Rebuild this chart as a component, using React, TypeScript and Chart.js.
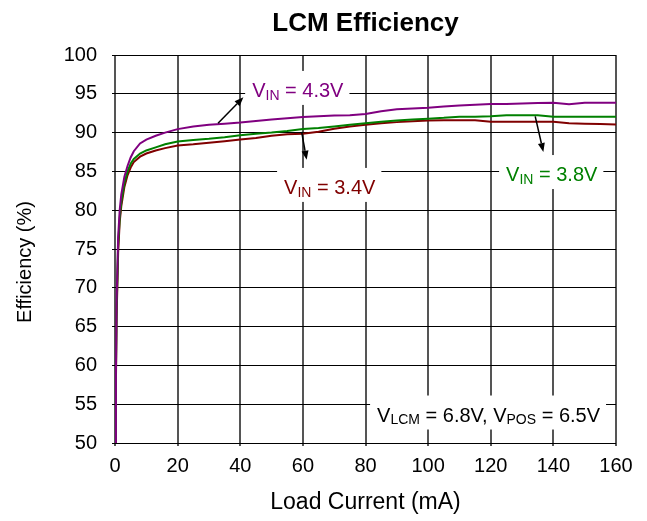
import { useEffect, useRef } from 'react';
import { Chart, registerables } from 'chart.js';

Chart.register(...registerables);

const FONT = "'Liberation Sans', Arial, sans-serif";

// Load current (mA)
const loadCurrent = [
  0.1, 0.3, 0.5, 0.8, 1, 1.5, 2, 3, 4, 5, 6, 8, 10, 13, 16, 20, 25, 30, 35, 40,
  45, 50, 55, 60, 65, 70, 75, 80, 85, 90, 95, 100, 105, 110, 115, 120, 125, 130,
  135, 140, 145, 150, 155, 160,
];

// Efficiency (%) for VIN = 4.3V
const eff43 = [
  50, 59, 68, 73, 76.5, 80, 82, 84.3, 85.7, 86.8, 87.6, 88.6, 89.1, 89.6, 90.0,
  90.45, 90.8, 91.0, 91.15, 91.3, 91.5, 91.7, 91.85, 92.0, 92.1, 92.2, 92.25,
  92.4, 92.75, 93.0, 93.1, 93.2, 93.35, 93.5, 93.6, 93.7, 93.7, 93.75, 93.8,
  93.85, 93.65, 93.85, 93.85, 93.85,
];

// Efficiency (%) for VIN = 3.8V
const eff38 = [
  50, 59, 67, 72, 75.5, 79, 81, 83.5, 85, 86, 86.6, 87.3, 87.7, 88.1, 88.5,
  88.85, 89.05, 89.2, 89.4, 89.65, 89.85, 90.0, 90.2, 90.45, 90.6, 90.8, 91.0,
  91.2, 91.4, 91.55, 91.7, 91.8, 91.9, 92.05, 92.05, 92.1, 92.25, 92.25, 92.25,
  92.05, 92.05, 92.05, 92.05, 92.05,
];

// Efficiency (%) for VIN = 3.4V
const eff34 = [
  50, 58, 66, 71, 74.5, 78.5, 80.5, 83, 84.5, 85.5, 86.2, 86.9, 87.3, 87.7, 88.0,
  88.35, 88.5, 88.7, 88.9, 89.1, 89.3, 89.6, 89.8, 89.85, 90.1, 90.5, 90.8, 91.0,
  91.2, 91.35, 91.45, 91.55, 91.6, 91.6, 91.6, 91.4, 91.4, 91.4, 91.4, 91.4,
  91.2, 91.15, 91.1, 91.05,
];

const X_MIN = 0;
const X_MAX = 160;
const X_STEP = 20;
const Y_MIN = 50;
const Y_MAX = 100;
const Y_STEP = 5;

const TITLE = 'LCM Efficiency';
const X_TITLE = 'Load Current (mA)';
const Y_TITLE = 'Efficiency (%)';

const PURPLE = '#800080';
const GREEN = '#008000';
const DARKRED = '#800000';

// Annotation labels (anchor = left edge / vertical center, in data units)
type Part = [string, boolean];
const LABELS: { parts: Part[]; x: number; y: number; color: string }[] = [
  { parts: [['V', false], ['IN', true], [' = 4.3V', false]], x: 43.8, y: 95.5, color: PURPLE },
  { parts: [['V', false], ['IN', true], [' = 3.4V', false]], x: 54.0, y: 83.0, color: DARKRED },
  { parts: [['V', false], ['IN', true], [' = 3.8V', false]], x: 124.9, y: 84.66, color: GREEN },
  {
    parts: [['V', false], ['LCM', true], [' = 6.8V, V', false], ['POS', true], [' = 6.5V', false]],
    x: 83.7, y: 53.67, color: '#000',
  },
];

// Arrows: tail -> head, in data units
const ARROWS = [
  { x1: 32.9, y1: 91.2, x2: 41.0, y2: 94.55 },
  { x1: 59.6, y1: 90.1, x2: 61.2, y2: 86.5 },
  { x1: 134.2, y1: 92.1, x2: 136.8, y2: 87.5 },
];

const MAIN_FONT = `20px ${FONT}`;
const SUB_FONT = `14px ${FONT}`;

const annotationPlugin = {
  id: 'annotations',
  beforeDatasetsDraw(chart: any) {
    const { ctx, scales } = chart;
    const xs = scales.x;
    const ys = scales.y;
    ctx.save();
    for (const lab of LABELS) {
      const px = xs.getPixelForValue(lab.x);
      const py = ys.getPixelForValue(lab.y);
      let w = 0;
      for (const [t, sub] of lab.parts) {
        ctx.font = sub ? SUB_FONT : MAIN_FONT;
        w += ctx.measureText(t).width;
      }
      ctx.fillStyle = '#fff';
      ctx.fillRect(px - 7, py - 19, w + 13, 34);
      let cx = px;
      ctx.textBaseline = 'alphabetic';
      ctx.textAlign = 'left';
      ctx.fillStyle = lab.color;
      for (const [t, sub] of lab.parts) {
        ctx.font = sub ? SUB_FONT : MAIN_FONT;
        ctx.fillText(t, cx, sub ? py + 9.7 : py + 7.2);
        cx += ctx.measureText(t).width;
      }
    }
    ctx.restore();
  },
  afterDatasetsDraw(chart: any) {
    const { ctx, scales } = chart;
    const xs = scales.x;
    const ys = scales.y;
    ctx.save();
    ctx.strokeStyle = '#000';
    ctx.fillStyle = '#000';
    ctx.lineWidth = 1.5;
    for (const a of ARROWS) {
      const x1 = xs.getPixelForValue(a.x1);
      const y1 = ys.getPixelForValue(a.y1);
      const x2 = xs.getPixelForValue(a.x2);
      const y2 = ys.getPixelForValue(a.y2);
      const ang = Math.atan2(y2 - y1, x2 - x1);
      const len = 9;
      const hw = 3.5;
      const bx = x2 - len * Math.cos(ang);
      const by = y2 - len * Math.sin(ang);
      ctx.beginPath();
      ctx.moveTo(x1, y1);
      ctx.lineTo(bx, by);
      ctx.stroke();
      ctx.beginPath();
      ctx.moveTo(x2, y2);
      ctx.lineTo(bx + hw * Math.sin(ang), by - hw * Math.cos(ang));
      ctx.lineTo(bx - hw * Math.sin(ang), by + hw * Math.cos(ang));
      ctx.closePath();
      ctx.fill();
    }
    ctx.restore();
  },
  afterDraw(chart: any) {
    const { ctx, chartArea } = chart;
    ctx.save();
    ctx.fillStyle = '#000';
    ctx.textAlign = 'center';
    ctx.textBaseline = 'alphabetic';
    // Title centered over plot area
    ctx.font = `bold 26px ${FONT}`;
    ctx.fillText(TITLE, (chartArea.left + chartArea.right) / 2, 31);
    // Y axis title
    ctx.font = `20px ${FONT}`;
    ctx.translate(31, (chartArea.top + chartArea.bottom) / 2 + 13);
    ctx.rotate(-Math.PI / 2);
    ctx.fillText(Y_TITLE, 0, 0);
    ctx.restore();
  },
};

export default function App() {
  const ref = useRef<HTMLCanvasElement>(null);

  useEffect(() => {
    if (!ref.current) return;
    Chart.defaults.font.family = FONT;
    Chart.defaults.color = '#000';
    const mk = (ys: number[]) => loadCurrent.map((x, i) => ({ x, y: ys[i] }));
    const chart = new Chart(ref.current, {
      type: 'line',
      data: {
        datasets: [
          { label: 'VIN = 4.3V', data: mk(eff43), borderColor: PURPLE, borderWidth: 2, pointRadius: 0, tension: 0 },
          { label: 'VIN = 3.8V', data: mk(eff38), borderColor: GREEN, borderWidth: 2, pointRadius: 0, tension: 0 },
          { label: 'VIN = 3.4V', data: mk(eff34), borderColor: DARKRED, borderWidth: 2, pointRadius: 0, tension: 0 },
        ],
      },
      options: {
        responsive: false,
        animation: false,
        layout: { padding: { left: 0, right: 31, top: 55, bottom: 5 } },
        plugins: {
          legend: { display: false },
          tooltip: { enabled: false },
          title: { display: false },
        },
        scales: {
          x: {
            type: 'linear',
            min: X_MIN,
            max: X_MAX,
            ticks: { stepSize: X_STEP, color: '#000', font: { family: FONT, size: 20 }, padding: 8, maxRotation: 0 },
            grid: { color: '#555', lineWidth: 2, tickLength: 3, drawTicks: true },
            border: { display: false },
            title: {
              display: true,
              text: X_TITLE,
              color: '#000',
              font: { family: FONT, size: 23 },
              padding: { top: 0, bottom: 0 },
            },
            afterFit: (s: any) => { s.height = 73; },
          },
          y: {
            type: 'linear',
            min: Y_MIN,
            max: Y_MAX,
            ticks: { stepSize: Y_STEP, color: '#000', font: { family: FONT, size: 20 }, padding: 15 },
            grid: { color: '#000', lineWidth: 1, tickLength: 3, drawTicks: true },
            border: { display: false },
            afterFit: (s: any) => { s.width = 115; },
          },
        },
      },
      plugins: [annotationPlugin],
    } as any);
    return () => chart.destroy();
  }, []);

  return (
    <canvas
      ref={ref}
      width={647}
      height={521}
      style={{ position: 'absolute', left: 0, top: 0, display: 'block' }}
    />
  );
}
